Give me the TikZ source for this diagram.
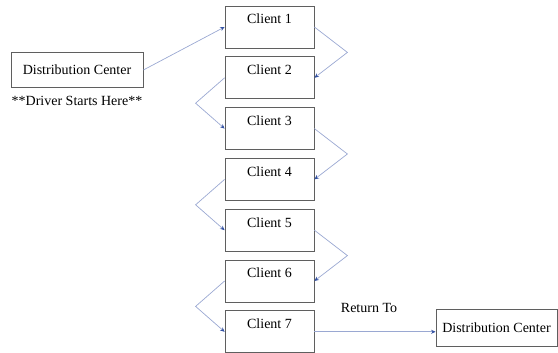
\documentclass[tikz,border=0pt]{standalone}
\usepackage{fontspec}
\setmainfont{Liberation Serif}
\usepackage{tikz}
\usetikzlibrary{arrows.meta,positioning,calc}
\definecolor{cBox}{HTML}{5F5F5F}
\definecolor{cLink}{HTML}{9AA8D2}
\definecolor{cTip}{HTML}{3553A3}
\tikzset{
  txt/.style={font=\fontsize{14}{16}\selectfont},
  client/.style={draw=cBox, line width=0.8pt, txt, minimum width=89pt,
                 text height=12pt, text depth=18pt, inner ysep=6pt},
  depot/.style={draw=cBox, line width=0.8pt, txt, inner sep=0pt, minimum height=35pt},
  link/.style={-{Stealth[length=4.5pt, width=4pt, color=cTip]}, line width=0.7pt, draw=cLink},
}

\begin{document}
\begin{tikzpicture}[x=1pt, y=1pt, node distance=8pt]
  \useasboundingbox (0,0) rectangle (558,353);
  \node[depot, minimum width=132pt] (dc) at (77,283) {Distribution Center};
  \node[txt] (start) at (77,252) {**Driver Starts Here**};
  \node[client] (c1) at (269.5,326) {Client 1};
  \node[client, below=of c1] (c2) {Client 2};
  \node[client, below=of c2] (c3) {Client 3};
  \node[client, below=of c3] (c4) {Client 4};
  \node[client, below=of c4] (c5) {Client 5};
  \node[client, below=of c5] (c6) {Client 6};
  \node[client, below=of c6] (c7) {Client 7};
  \node[depot, minimum width=121pt, minimum height=37pt] (dcEnd) at (496.5,25) {Distribution Center};
  \node[txt] (ret) at (369,45) {Return To};
  % route through the clients
  \draw[link] (dc.east) -- (c1.west);
  \draw[link] (c1.east) -- ($(c1.east)!.5!(c2.east)+(33,0)$) -- (c2.east);
  \draw[link] (c2.west) -- ($(c2.west)!.5!(c3.west)+(-29,0)$) -- (c3.west);
  \draw[link] (c3.east) -- ($(c3.east)!.5!(c4.east)+(33,0)$) -- (c4.east);
  \draw[link] (c4.west) -- ($(c4.west)!.5!(c5.west)+(-29,0)$) -- (c5.west);
  \draw[link] (c5.east) -- ($(c5.east)!.5!(c6.east)+(33,0)$) -- (c6.east);
  \draw[link] (c6.west) -- ($(c6.west)!.5!(c7.west)+(-29,0)$) -- (c7.west);
  \draw[link] (c7.east) -- (c7.east -| dcEnd.west);
\end{tikzpicture}
\end{document}
